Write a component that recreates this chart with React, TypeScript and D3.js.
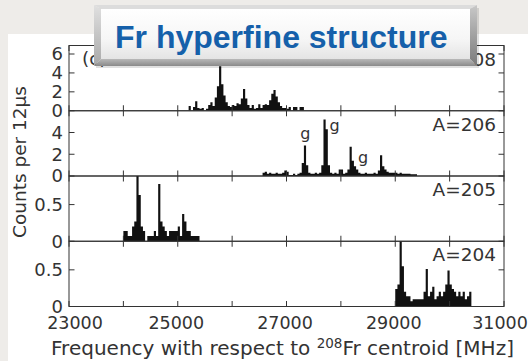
import React from 'react';
import * as d3 from 'd3';

const W = 528;
const H = 361;

// x axis
const X_DOMAIN = [23000, 31000];
const X_TICKS = [23000, 24000, 25000, 26000, 27000, 28000, 29000, 30000, 31000];
const X_TICK_LABELS = [23000, 25000, 27000, 29000, 31000];
const BIN_WIDTH = 40; // MHz

// A=208
const A208_START = 25200;
const A208_COUNTS = [
  0.5, 0, 0.4, 1.0, 0.3, 0.2, 0.3, 0, 0.2, 0.6,
  0.9, 0.5, 1.4, 2.6, 4.7, 2.8, 1.6, 0.9, 0.5, 0.4,
  0.6, 0.5, 0.8, 0.7, 1.3, 2.3, 1.3, 0.6, 0.3, 0.6,
  0.2, 0.3, 0.7, 0.3, 0.6, 0.7, 0.6, 1.1, 1.8, 2.2,
  1.5, 0.9, 0.5, 0.3, 0.3, 0.2, 0.4, 0, 0.4, 0.4,
  0, 0.4, 0.4,
];
// A=206
const A206_START = 26560;
const A206_COUNTS = [
  0.3, 0.4, 0.2, 0.3, 0.2, 0.2, 0.3, 0.2, 0.2, 0.3,
  0.5, 0.4, 0.1, 0.1, 0.2, 0.1, 0.2, 0.3, 1.2, 2.8,
  1.0, 0.3, 0.2, 0.2, 0.3, 0.2, 0.3, 1.0, 5.2, 4.3,
  1.0, 0.3, 0.2, 0.3, 0.2, 0.6, 0.6, 0.2, 0.3, 0.6,
  2.7, 1.4, 0.9, 0.6, 0.3, 0.2, 0.2, 0.3, 0.2, 0.2,
  0.2, 0.3, 0.2, 0.5, 1.9, 0.9, 0.6, 0.4, 0.3, 0.3,
  0.3, 0.3, 0.2, 0.3, 0.2, 0.2, 0.2, 0.2, 0.15, 0.15,
  0.15,
];
// A=205
const A205_START = 24000;
const A205_COUNTS = [
  0.14, 0.14, 0.07, 0.07, 0.2, 0.27, 1.0, 0.63, 0.2, 0.14,
  0, 0.07, 0.07, 0.07, 0.14, 0.07, 0.78, 0.27, 0.2, 0.14,
  0.07, 0.14, 0.14, 0.14, 0.14, 0.2, 0.07, 0.37, 0.27, 0.14,
  0.14, 0.07, 0.07, 0.07, 0.07,
];
// A=204
const A204_START = 29000;
const A204_COUNTS = [
  0.24, 0.3, 1.0, 0.55, 0.2, 0.14, 0.14, 0.07, 0.1, 0.1,
  0.1, 0.1, 0.1, 0.2, 0.51, 0.14, 0.2, 0.27, 0.1, 0.14,
  0.2, 0.14, 0.2, 0.3, 0.49, 0.3, 0.24, 0.2, 0.14, 0.2,
  0.14, 0.2, 0.1, 0.14, 0.2,
];

const PANEL_LABELS = ['A=208', 'A=206', 'A=205', 'A=204'];
const PANEL_STARTS = [A208_START, A206_START, A205_START, A204_START];
const PANEL_COUNTS = [A208_COUNTS, A206_COUNTS, A205_COUNTS, A204_COUNTS];
const PANEL_YMAX = [6.9, 6.0, 0.89, 0.89];
const PANEL_YTICKS = [[0, 2, 4, 6], [0, 2, 4], [0, 0.5], [0, 0.5]];

// "g" annotations on A=206 panel (frequency, counts)
const G_FREQS = [27347, 27884, 28410];
const G_VALUES = [3.4, 4.14, 1.23];

const TITLE = 'Fr hyperfine structure';
const X_LABEL_A = 'Frequency with respect to ';
const X_LABEL_SUP = '208';
const X_LABEL_B = 'Fr centroid [MHz]';
const Y_LABEL = 'Counts per 12μs';

const PLOT_LEFT = 69;
const PLOT_RIGHT = 504;
const PLOT_TOP = 45.5;
const PLOT_BOTTOM = 306.5;
const FONT = 'DejaVu Sans, sans-serif';
const AXIS = '#333';
const TICK = 5.5;

export default function App() {
  const x = d3.scaleLinear().domain(X_DOMAIN).range([PLOT_LEFT, PLOT_RIGHT]);
  const panelH = (PLOT_BOTTOM - PLOT_TOP) / 4;

  const panels = PANEL_COUNTS.map((counts, i) => {
    const top = PLOT_TOP + i * panelH;
    const bottom = top + panelH;
    const y = d3.scaleLinear().domain([0, PANEL_YMAX[i]]).range([bottom, top]);
    const pts = counts.map((v, j) => ({ f: PANEL_STARTS[i] + j * BIN_WIDTH, v }));
    pts.push({ f: PANEL_STARTS[i] + counts.length * BIN_WIDTH, v: 0 });
    const area = d3
      .area<{ f: number; v: number }>()
      .x((d) => x(d.f))
      .y0(bottom)
      .y1((d) => y(d.v))
      .curve(d3.curveStepAfter);
    return { i, top, bottom, y, path: area(pts) || '' };
  });

  const nLab = X_TICK_LABELS.length;
  const labelNudge = (k: number) => (k === 0 ? 6 : k === nLab - 1 ? -4 : -1.5);

  return (
    <svg
      width={W}
      height={H}
      viewBox={`0 0 ${W} ${H}`}
      style={{ position: 'absolute', left: 0, top: 0, display: 'block' }}
    >
      <defs>
        {panels.map((p) => (
          <clipPath id={`clip${p.i}`} key={p.i}>
            <rect x={PLOT_LEFT} y={p.top} width={PLOT_RIGHT - PLOT_LEFT} height={panelH} />
          </clipPath>
        ))}
        <linearGradient id="face" x1="0" y1="0" x2="0" y2="1">
          <stop offset="0" stopColor="#ffffff" />
          <stop offset="0.6" stopColor="#f6f6f6" />
          <stop offset="1" stopColor="#e4e4e4" />
        </linearGradient>
        <linearGradient id="leftBevel" x1="0" y1="0" x2="0" y2="1">
          <stop offset="0" stopColor="#e0e0e0" />
          <stop offset="1" stopColor="#a8a8a8" />
        </linearGradient>
        <linearGradient id="rightBevel" x1="0" y1="0" x2="0" y2="1">
          <stop offset="0" stopColor="#c8c8c8" />
          <stop offset="1" stopColor="#7a7a7a" />
        </linearGradient>
        <linearGradient id="bottomBevel" x1="0" y1="0" x2="0" y2="1">
          <stop offset="0" stopColor="#b8b8b8" />
          <stop offset="1" stopColor="#8a8a8a" />
        </linearGradient>
      </defs>

      {/* backgrounds */}
      <rect x={0} y={0} width={W} height={H} fill="#eeece9" />
      <rect x={8} y={34} width={W - 8} height={H - 34} fill="#ffffff" />

      {/* panels */}
      {panels.map((p) => (
        <g key={p.i}>
          <path d={p.path} fill="#111" clipPath={`url(#clip${p.i})`} />
          <rect
            x={PLOT_LEFT}
            y={p.top}
            width={PLOT_RIGHT - PLOT_LEFT}
            height={panelH}
            fill="none"
            stroke={AXIS}
            strokeWidth={1}
          />
          {X_TICKS.map((t) => (
            <g key={t}>
              <line x1={x(t)} x2={x(t)} y1={p.top} y2={p.top + TICK} stroke={AXIS} />
              <line x1={x(t)} x2={x(t)} y1={p.bottom} y2={p.bottom - TICK} stroke={AXIS} />
            </g>
          ))}
          {PANEL_YTICKS[p.i].map((t) => (
            <g key={t}>
              <line x1={PLOT_LEFT} x2={PLOT_LEFT + TICK} y1={p.y(t)} y2={p.y(t)} stroke={AXIS} />
              <line x1={PLOT_RIGHT} x2={PLOT_RIGHT - TICK} y1={p.y(t)} y2={p.y(t)} stroke={AXIS} />
              <text
                x={63}
                y={p.y(t)}
                dy="0.36em"
                textAnchor="end"
                fontFamily={FONT}
                fontSize={18}
                fill="#333"
              >
                {String(t)}
              </text>
            </g>
          ))}
          <text
            x={496}
            y={p.top + 20}
            textAnchor="end"
            fontFamily={FONT}
            fontSize={18.5}
            fill="#333"
          >
            {PANEL_LABELS[p.i]}
          </text>
        </g>
      ))}

      {/* g annotations */}
      {G_FREQS.map((f, k) => (
        <text
          key={k}
          x={x(f)}
          y={panels[1].y(G_VALUES[k])}
          textAnchor="middle"
          fontFamily={FONT}
          fontSize={16}
          fill="#333"
        >
          g
        </text>
      ))}

      {/* panel tag */}
      <text x={82} y={65} fontFamily={FONT} fontSize={18.5} fill="#333">
        (c)
      </text>

      {/* x tick labels */}
      {X_TICK_LABELS.map((t, k) => (
        <text
          key={t}
          x={x(t) + labelNudge(k)}
          y={329}
          textAnchor="middle"
          fontFamily={FONT}
          fontSize={17.5}
          fill="#333"
        >
          {String(t)}
        </text>
      ))}

      {/* x label */}
      <text x={(50 + 515) / 2} y={355} textAnchor="middle" fontFamily={FONT} fontSize={20} fill="#333">
        {X_LABEL_A}
        <tspan fontSize={13.5} dy={-7.5}>
          {X_LABEL_SUP}
        </tspan>
        <tspan dy={7.5}>{X_LABEL_B}</tspan>
      </text>

      {/* y label */}
      <text
        transform="translate(26,162) rotate(-90)"
        textAnchor="middle"
        fontFamily={FONT}
        fontSize={18.5}
        fill="#333"
      >
        {Y_LABEL}
      </text>

      {/* title box */}
      <g>
        <rect x={96} y={8} width={383} height={60} fill="#000" opacity={0.12} />
        <polygon points="94,5 477,5 470,9 101,9" fill="#dcdcdc" />
        <polygon points="94,5 101,9 101,59 94,66" fill="url(#leftBevel)" />
        <polygon points="477,5 477,66 470,59 470,9" fill="url(#rightBevel)" />
        <polygon points="94,66 101,59 470,59 477,66" fill="url(#bottomBevel)" />
        <rect x={101} y={9} width={369} height={50} fill="url(#face)" />
        <text
          x={115}
          y={48}
          fontFamily="Liberation Sans, Arial, sans-serif"
          fontWeight="bold"
          fontSize={32}
          fill="#1560aa"
        >
          {TITLE}
        </text>
      </g>
    </svg>
  );
}
